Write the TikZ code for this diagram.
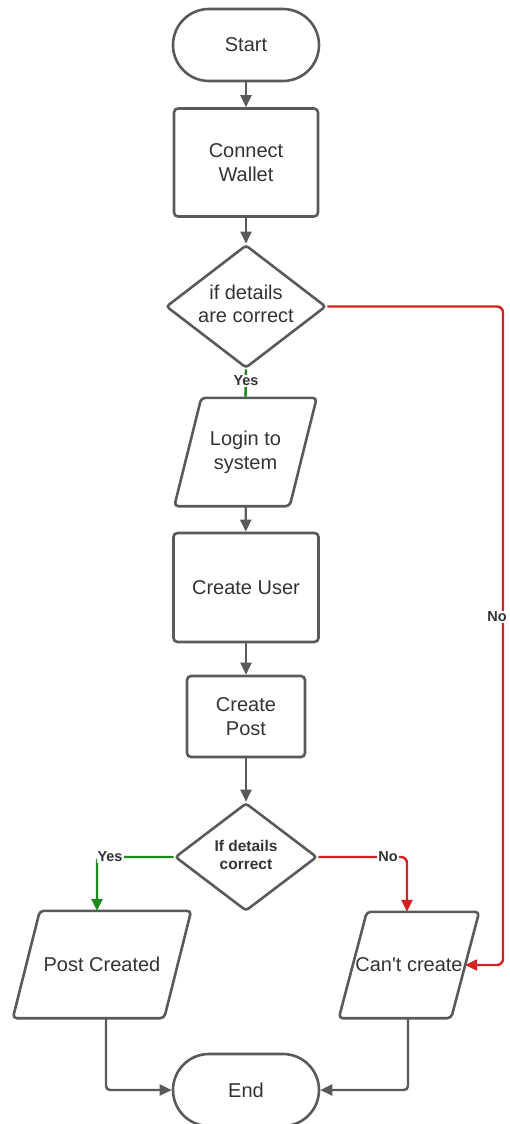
\documentclass[tikz,border=0pt]{standalone}
\usepackage{fontspec}
\setmainfont{Liberation Sans}
\usetikzlibrary{arrows.meta,shapes.geometric}
\definecolor{edge}{HTML}{5A5A5A}
\definecolor{ink}{HTML}{333333}
\definecolor{yesgreen}{HTML}{1E8A1E}
\definecolor{nored}{HTML}{D42222}
\begin{document}
\begin{tikzpicture}[x=1pt,y=-1pt,
  txt/.style={text=ink, font=\fontsize{20}{24}\selectfont, align=center, inner sep=0pt},
  box/.style={txt, draw=edge, line width=2.6pt, rounded corners=4pt},
  term/.style={box, rounded corners=36pt, minimum width=146pt, minimum height=72pt},
  pbody/.style={txt},
  pshape/.style={draw=edge, line width=2.6pt, rounded corners=4pt},
  decision/.style={diamond, draw=edge, line width=2.6pt, rounded corners=3pt, inner sep=0pt},
  conn/.style={draw=edge, line width=2.4pt, -{Triangle[length=12pt,width=11pt]}},
  yesline/.style={draw=yesgreen, line width=2.4pt, rounded corners=4pt},
  noline/.style={draw=nored, line width=2.4pt, rounded corners=6pt},
  tag/.style={fill=white, text=ink, font=\bfseries\fontsize{14.5}{17}\selectfont, inner sep=1pt}
]
\useasboundingbox (0,0) rectangle (510,1124);

% process steps
\node[term] (start) at (246,45) {Start};
\node[box, minimum width=144pt, minimum height=108pt] (wallet) at (246,162.5) {Connect\\Wallet};
\node[decision, minimum width=160pt, minimum height=123pt] (d1) at (246,306.5) {};
\node[txt, font=\fontsize{20}{23}\selectfont] (d1t) at (246,304) {if details\\are correct};

\node[pbody, minimum width=115pt, minimum height=108pt] (login) at (245.5,452) {Login to\\system};
\draw[pshape] ([xshift=13.5pt]login.north west) -- ([xshift=13.5pt]login.north east)
  -- ([xshift=-13.5pt]login.south east) -- ([xshift=-13.5pt]login.south west) -- cycle;

\node[box, minimum width=145pt, minimum height=109pt] (user) at (246,587.5) {Create User};
\node[box, minimum width=118pt, minimum height=81pt] (post) at (246,716.5) {Create\\Post};

\node[decision, minimum width=142pt, minimum height=108pt] (d2) at (246,857) {};
\node[txt, font=\bfseries\fontsize{15.5}{18.5}\selectfont] (d2t) at (246,855) {If details\\correct};

\node[pbody, minimum width=151pt, minimum height=107pt] (pc) at (102,964.5) {Post Created};
\draw[pshape] ([xshift=13.5pt]pc.north west) -- ([xshift=13.5pt]pc.north east)
  -- ([xshift=-13.5pt]pc.south east) -- ([xshift=-13.5pt]pc.south west) -- cycle;

\node[pbody, minimum width=112pt, minimum height=106pt] (cant) at (409,965) {Can\textquotesingle t create};
\draw[pshape] ([xshift=14pt]cant.north west) -- ([xshift=14pt]cant.north east)
  -- ([xshift=-14pt]cant.south east) -- ([xshift=-14pt]cant.south west) -- cycle;

\node[term] (end) at (246,1090) {End};

% main flow
\draw[conn] (start) -- (wallet);
\draw[conn] (wallet) -- (d1.north);
\draw[yesline] (d1.south) -- (login.north);
\node[tag] (y1) at (246,381) {Yes};
\draw[conn] (login) -- (user);
\draw[conn] (user) -- (post);
\draw[conn] (post) -- (d2.north);

% second decision
\draw[yesline, -{Triangle[length=12pt,width=11pt]}] (d2.west) -| ([xshift=-5pt]pc.north);
\node[tag] (y2) at (110,857) {Yes};
\draw[noline, -{Triangle[length=12pt,width=11pt]}] (d2.east) -| ([xshift=-2pt]cant.north);
\node[tag] (n2) at (388,857) {No};

% rejection from the first decision
\coordinate (rail) at (503,617);
\draw[noline, -{Triangle[length=12pt,width=11pt]}] (d1.east) -| (rail) |- (cant.east);
\node[tag] (n1) at ([xshift=-6pt]rail) {No};

% towards the end
\draw[conn, rounded corners=4pt] ([xshift=4pt]pc.south) |- (end.west);
\draw[conn, rounded corners=4pt] ([xshift=-1pt]cant.south) |- (end.east);
\end{tikzpicture}
\end{document}
